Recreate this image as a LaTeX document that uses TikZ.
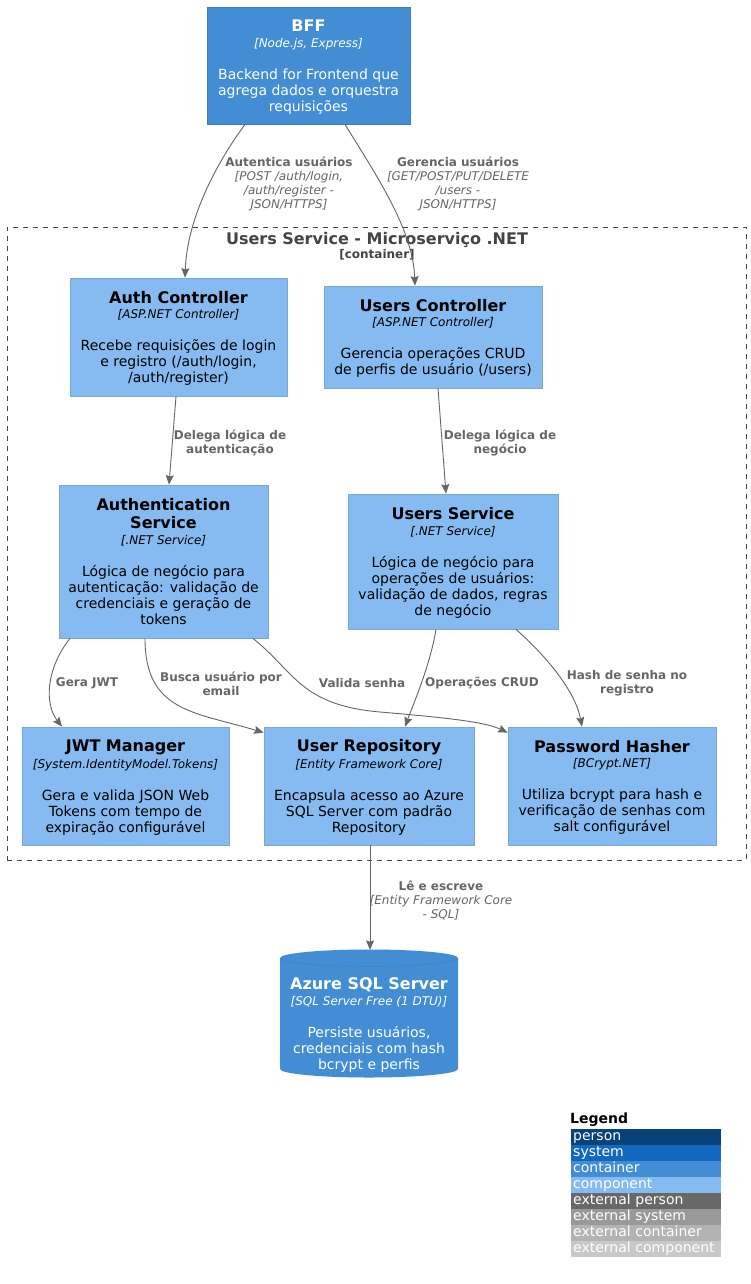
\documentclass[tikz,border=0pt]{standalone}
\usepackage{fontspec}
\setmainfont{DejaVu Sans}
\usetikzlibrary{arrows.meta,calc}
\definecolor{compfill}{HTML}{85BBF0}
\definecolor{compline}{HTML}{78A8D8}
\definecolor{contfill}{HTML}{438DD5}
\definecolor{contline}{HTML}{3C7FC0}
\definecolor{edgec}{HTML}{666666}
\definecolor{bndc}{HTML}{444444}
\definecolor{personc}{HTML}{08427B}
\definecolor{systemc}{HTML}{1168BD}
\definecolor{extpersonc}{HTML}{686868}
\definecolor{extsystemc}{HTML}{999999}
\definecolor{extcontc}{HTML}{B3B3B3}
\definecolor{extcompc}{HTML}{C8C8C8}
\setlength{\lineskip}{0pt}
\setlength{\lineskiplimit}{0pt}
\newcommand\Ttl[1]{{\fontsize{16}{1}\selectfont\bfseries #1\rule[-2pt]{0pt}{18pt}}}
\newcommand\Tch[1]{{\fontsize{12}{1}\selectfont\itshape #1\rule[-4pt]{0pt}{17.4pt}}}
\newcommand\Dsc[1]{{\fontsize{14}{1}\selectfont #1\rule[-4pt]{0pt}{16pt}}}
\tikzset{
  elem/.style={align=center, inner sep=0pt, font=\fontsize{14}{1}\selectfont},
  comp/.style={elem, fill=compfill, draw=compline, line width=0.8pt, text=black},
  cont/.style={elem, fill=contfill, draw=contline, line width=0.8pt, text=white},
  conn/.style={draw=edgec, line width=0.9pt, -{Stealth[length=9.5pt,width=8pt,inset=1.5pt]}},
  lbl/.style={align=center, inner sep=0pt, text=edgec, font=\fontsize{12}{14}\selectfont},
  legrow/.style={anchor=north west, inner xsep=2pt, inner ysep=0pt, minimum height=15.3pt,
    text height=10.6pt, text depth=3.4pt,
    text width=146pt, align=left, text=white, font=\fontsize{14}{15}\selectfont},
}
\begin{document}
\begin{tikzpicture}[x=1pt, y=-1pt]
\useasboundingbox (0,0) rectangle (751,1284);
\fill[white] (0,0) rectangle (751,1284);

% boundary
\node[draw=bndc, line width=0.9pt, dash pattern=on 5pt off 5pt, minimum width=739pt, minimum height=633pt, inner sep=0pt] (bnd) at (376.5,543.5) {};
\node[inner sep=0pt, text=bndc, font=\fontsize{16}{18}\selectfont\bfseries] (bndtitle) at (377,240) {Users Service - Microserviço .NET};
\node[inner sep=0pt, text=bndc, font=\fontsize{12}{14}\selectfont\bfseries] (bndtype) at (377,255) {[container]};

% elements
\node[cont, minimum width=203pt, minimum height=117pt] (bff) at (308.5,65.5)
  {\Ttl{BFF}\\ \Tch{[Node.js, Express]}\\[15.7pt] \Dsc{Backend for Frontend que}\\ \Dsc{agrega dados e orquestra}\\ \Dsc{requisições}};
\node[comp, minimum width=217pt, minimum height=118pt] (authc) at (178.5,337)
  {\Ttl{Auth Controller}\\ \Tch{[ASP.NET Controller]}\\[15.7pt] \Dsc{Recebe requisições de login}\\ \Dsc{e registro (/auth/login,}\\ \Dsc{/auth/register)}};
\node[comp, minimum width=218pt, minimum height=102pt] (usersc) at (433,337)
  {\Ttl{Users Controller}\\ \Tch{[ASP.NET Controller]}\\[15.7pt] \Dsc{Gerencia operações CRUD}\\ \Dsc{de perfis de usuário (/users)}};
\node[comp, minimum width=209pt, minimum height=153pt] (authsvc) at (163.5,561.5)
  {\Ttl{Authentication}\\ \Ttl{Service}\\ \Tch{[.NET Service]}\\[15.7pt] \Dsc{Lógica de negócio para}\\ \Dsc{autenticação: validação de}\\ \Dsc{credenciais e geração de}\\ \Dsc{tokens}};
\node[comp, minimum width=210pt, minimum height=135pt] (userssvc) at (453,561.5)
  {\Ttl{Users Service}\\ \Tch{[.NET Service]}\\[15.7pt] \Dsc{Lógica de negócio para}\\ \Dsc{operações de usuários:}\\ \Dsc{validação de dados, regras}\\ \Dsc{de negócio}};
\node[comp, minimum width=207pt, minimum height=118pt] (jwt) at (125.5,786)
  {\Ttl{JWT Manager}\\ \Tch{[System.IdentityModel.Tokens]}\\[15.7pt] \Dsc{Gera e valida JSON Web}\\ \Dsc{Tokens com tempo de}\\ \Dsc{expiração configurável}};
\node[comp, minimum width=210pt, minimum height=118pt] (repo) at (369,786)
  {\Ttl{User Repository}\\ \Tch{[Entity Framework Core]}\\[15.7pt] \Dsc{Encapsula acesso ao Azure}\\ \Dsc{SQL Server com padrão}\\ \Dsc{Repository}};
\node[comp, minimum width=208pt, minimum height=118pt] (hasher) at (612,786)
  {\Ttl{Password Hasher}\\ \Tch{[BCrypt.NET]}\\[15.7pt] \Dsc{Utiliza bcrypt para hash e}\\ \Dsc{verificação de senhas com}\\ \Dsc{salt configurável}};

% database cylinder (outline drawn first, text node on top)
\coordinate (sqlc) at (369,1023.5);
\fill[contfill] ($(sqlc)+(-89,-65.5)$) arc[start angle=180, end angle=0, x radius=89pt, y radius=8.5pt]
  -- ($(sqlc)+(89,45.5)$) arc[start angle=0, end angle=-180, x radius=89pt, y radius=8.5pt] -- cycle;
\draw[contline!70!contfill, line width=0.6pt] ($(sqlc)+(-89,-65.5)$) arc[start angle=180, end angle=360, x radius=89pt, y radius=8.5pt];
\node[elem, text=white, minimum width=178pt, minimum height=127pt] (sql) at (sqlc)
  {\Ttl{Azure SQL Server}\\ \Tch{[SQL Server Free (1 DTU)]}\\[15.7pt] \Dsc{Persiste usuários,}\\ \Dsc{credenciais com hash}\\ \Dsc{bcrypt e perfis}};
\coordinate (sqltop) at ([yshift=10pt]sql.north);

% connectors
\draw[conn] ([xshift=-63.5pt]bff.south) .. controls (215,165) and (187,220) .. ([xshift=6.5pt]authc.north);
\draw[conn] ([xshift=36.5pt]bff.south) .. controls (378,178) and (413,230) .. ([xshift=-18pt]usersc.north);
\draw[conn] ([xshift=-2.5pt]authc.south) -- ([xshift=5.5pt]authsvc.north);
\draw[conn] ([xshift=5pt]usersc.south) -- ([xshift=-7pt]userssvc.north);
\draw[conn] ([xshift=-93.5pt]authsvc.south) .. controls (45,670) and (45,705) .. ([xshift=-63.5pt]jwt.north);
\draw[conn] ([xshift=-18.5pt]authsvc.south) .. controls (145,712) and (195,712) .. ([yshift=-6pt]repo.north west);
\draw[conn] ([xshift=89.5pt]authsvc.south) .. controls (295,672) and (300,705) .. (380,712)
  .. controls (450,718) and (485,722) .. ([yshift=-6pt]hasher.north west);
\draw[conn] ([xshift=-17pt]userssvc.south) .. controls (430,665) and (415,700) .. ([xshift=36pt]repo.north);
\draw[conn] ([xshift=63pt]userssvc.south) .. controls (545,655) and (575,690) .. ([xshift=-30pt]hasher.north);
\draw[conn] ([xshift=1pt]repo.south) -- ([xshift=1pt]sqltop);

% connector labels
\node[lbl] (l1) at (289,184) {{\bfseries Autentica usuários}\\ {\itshape [POST /auth/login,}\\ {\itshape /auth/register -}\\ {\itshape JSON/HTTPS]}};
\node[lbl] (l2) at (458,184) {{\bfseries Gerencia usuários}\\ {\itshape [GET/POST/PUT/DELETE}\\ {\itshape /users -}\\ {\itshape JSON/HTTPS]}};
\node[lbl] (l3) at (230,443) {{\bfseries Delega lógica de}\\ {\bfseries autenticação}};
\node[lbl] (l4) at (500,443) {{\bfseries Delega lógica de}\\ {\bfseries negócio}};
\node[lbl] (l5) at (87,683) {\bfseries Gera JWT};
\node[lbl] (l6) at (221,683.5) {{\bfseries Busca usuário por}\\ {\bfseries email}};
\node[lbl] (l7) at (362,683) {\bfseries Valida senha};
\node[lbl] (l8) at (482,683) {\bfseries Operações CRUD};
\node[lbl] (l9) at (627,683.5) {{\bfseries Hash de senha no}\\ {\bfseries registro}};
\node[lbl] (l10) at (441,900) {{\bfseries Lê e escreve}\\ {\itshape [Entity Framework Core}\\ {\itshape - SQL]}};

% legend
\node[anchor=west, inner sep=0pt, font=\fontsize{14}{16}\selectfont\bfseries] (legtitle) at (570,1120) {Legend};
\node[legrow, fill=personc] (lg1) at (571,1129) {person};
\node[legrow, fill=systemc] (lg2) at (571,1145) {system};
\node[legrow, fill=contfill] (lg3) at (571,1161) {container};
\node[legrow, fill=compfill] (lg4) at (571,1177) {component};
\node[legrow, fill=extpersonc] (lg5) at (571,1193) {external person};
\node[legrow, fill=extsystemc] (lg6) at (571,1209) {external system};
\node[legrow, fill=extcontc] (lg7) at (571,1225) {external container};
\node[legrow, fill=extcompc] (lg8) at (571,1241) {external component};
\end{tikzpicture}
\end{document}
